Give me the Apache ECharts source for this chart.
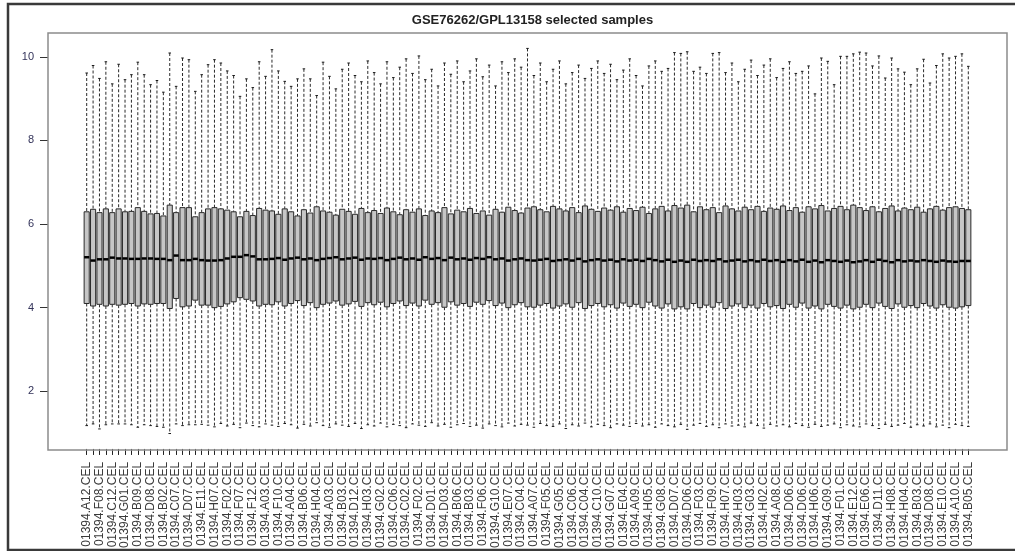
<!DOCTYPE html>
<html>
<head>
<meta charset="utf-8">
<script src="https://cdn.jsdelivr.net/npm/echarts@6/dist/echarts.min.js"></script>
<style>html,body{margin:0;padding:0;background:#fff;}#c{width:1015px;height:551px;}</style>
</head>
<body>
<div id="c"></div>
<script>
const titleText = 'GSE76262/GPL13158 selected samples';
const categories = [
'01394.A12.CEL','01394.E03.CEL','01394.F08.CEL','01394.B10.CEL','01394.C12.CEL','01394.H11.CEL','01394.G01.CEL','01394.A05.CEL','01394.B09.CEL','01394.E08.CEL',
'01394.D08.CEL','01394.G11.CEL','01394.B02.CEL','01394.F11.CEL','01394.C07.CEL','01394.A01.CEL','01394.D07.CEL','01394.C09.CEL','01394.E11.CEL','01394.B07.CEL',
'01394.H07.CEL','01394.D04.CEL','01394.F02.CEL','01394.G06.CEL','01394.F07.CEL','01394.A06.CEL','01394.F12.CEL','01394.E02.CEL','01394.A03.CEL','01394.C05.CEL',
'01394.F10.CEL','01394.H12.CEL','01394.A04.CEL','01394.D02.CEL','01394.B06.CEL','01394.E09.CEL','01394.H04.CEL','01394.C01.CEL','01394.A03.CEL','01394.G04.CEL',
'01394.B03.CEL','01394.E05.CEL','01394.D12.CEL','01394.A11.CEL','01394.H03.CEL','01394.F04.CEL','01394.G02.CEL','01394.B12.CEL','01394.C06.CEL','01394.H09.CEL',
'01394.C02.CEL','01394.E01.CEL','01394.F02.CEL','01394.A02.CEL','01394.D01.CEL','01394.G12.CEL','01394.D03.CEL','01394.C08.CEL','01394.B06.CEL','01394.H01.CEL',
'01394.B03.CEL','01394.D10.CEL','01394.F06.CEL','01394.B01.CEL','01394.G10.CEL','01394.C11.CEL','01394.E07.CEL','01394.A09.CEL','01394.C04.CEL','01394.H10.CEL',
'01394.A07.CEL','01394.B08.CEL','01394.F05.CEL','01394.D09.CEL','01394.G05.CEL','01394.E10.CEL','01394.C06.CEL','01394.F11.CEL','01394.C04.CEL','01394.B04.CEL',
'01394.C10.CEL','01394.A01.CEL','01394.G07.CEL','01394.H02.CEL','01394.E04.CEL','01394.D05.CEL','01394.A09.CEL','01394.C03.CEL','01394.H05.CEL','01394.B11.CEL',
'01394.G08.CEL','01394.E08.CEL','01394.D07.CEL','01394.A05.CEL','01394.D06.CEL','01394.G04.CEL','01394.F03.CEL','01394.B05.CEL','01394.F09.CEL','01394.E01.CEL',
'01394.H07.CEL','01394.C09.CEL','01394.H03.CEL','01394.A06.CEL','01394.G03.CEL','01394.D10.CEL','01394.H02.CEL','01394.F12.CEL','01394.A08.CEL','01394.E03.CEL',
'01394.D06.CEL','01394.B10.CEL','01394.D06.CEL','01394.G11.CEL','01394.H06.CEL','01394.C03.CEL','01394.G09.CEL','01394.A11.CEL','01394.F01.CEL','01394.B08.CEL',
'01394.E12.CEL','01394.H09.CEL','01394.E06.CEL','01394.C12.CEL','01394.D11.CEL','01394.G06.CEL','01394.H08.CEL','01394.A02.CEL','01394.H04.CEL','01394.E09.CEL',
'01394.B03.CEL','01394.F04.CEL','01394.D08.CEL','01394.C08.CEL','01394.E10.CEL','01394.G12.CEL','01394.A10.CEL','01394.H11.CEL','01394.B05.CEL'
];
const whiskerLow = [
1.15,1.19,1.07,1.17,1.19,1.19,1.19,1.17,1.11,1.17,
1.15,1.13,1.11,0.96,1.19,1.15,1.17,1.17,1.18,1.16,
1.12,1.20,1.14,1.18,1.10,1.21,1.15,1.12,1.19,1.16,
1.13,1.20,1.17,1.09,1.18,1.14,1.22,1.15,1.11,1.19,
1.16,1.13,1.20,1.08,1.17,1.14,1.21,1.12,1.18,1.15,
1.10,1.19,1.16,1.13,1.22,1.14,1.18,1.11,1.17,1.20,
1.13,1.16,1.09,1.19,1.15,1.12,1.21,1.14,1.18,1.16,
1.11,1.20,1.15,1.13,1.19,1.08,1.17,1.14,1.21,1.12,
1.18,1.15,1.10,1.19,1.16,1.13,1.20,1.14,1.17,1.11,
1.19,1.15,1.12,1.18,1.06,1.16,1.20,1.13,1.17,1.10,
1.19,1.14,1.16,1.12,1.21,1.15,1.09,1.18,1.14,1.17,
1.12,1.20,1.15,1.11,1.18,1.13,1.16,1.19,1.10,1.17,
1.14,1.12,1.19,1.15,1.08,1.18,1.13,1.16,1.20,1.11,
1.17,1.14,1.19,1.12,1.16,1.10,1.18,1.15,1.13
];
const q1 = [
4.08,4.02,4.06,4.02,4.06,4.04,4.06,4.08,4.02,4.07,
4.06,4.08,4.08,3.96,4.20,4.00,4.02,4.16,4.04,4.04,
3.98,4.01,4.07,4.12,4.22,4.18,4.14,4.02,4.06,4.05,
4.12,4.02,4.08,4.15,4.03,4.10,3.98,4.06,4.09,4.14,
4.04,4.07,4.13,4.01,4.10,4.05,4.11,4.00,4.08,4.14,
4.03,4.09,4.02,4.16,4.06,4.10,3.99,4.12,4.04,4.08,
4.01,4.11,4.06,4.15,4.03,4.09,3.98,4.05,4.10,4.00,
3.99,4.04,4.08,3.97,4.02,4.07,3.99,4.10,3.96,4.03,
4.08,4.00,4.05,3.97,4.09,4.01,4.06,3.98,4.11,4.02,
3.97,4.07,3.95,4.00,3.95,4.08,3.98,4.04,3.99,4.10,
3.96,4.02,4.07,3.98,4.04,3.97,4.08,4.00,4.03,3.96,
4.06,3.99,4.09,3.97,4.02,3.95,4.06,4.01,3.97,4.04,
3.95,3.99,4.06,3.98,4.09,4.01,3.96,4.07,3.99,4.03,
3.98,4.08,4.02,3.97,4.05,3.99,3.97,4.00,4.03
];
const median = [
5.19,5.11,5.14,5.14,5.18,5.16,5.16,5.15,5.15,5.16,
5.16,5.15,5.15,5.12,5.23,5.12,5.12,5.15,5.12,5.11,
5.11,5.12,5.16,5.20,5.20,5.24,5.21,5.14,5.14,5.15,
5.17,5.13,5.16,5.18,5.14,5.16,5.12,5.15,5.17,5.19,
5.14,5.16,5.18,5.13,5.16,5.15,5.17,5.12,5.15,5.18,
5.14,5.16,5.13,5.19,5.15,5.17,5.12,5.18,5.14,5.16,
5.13,5.17,5.15,5.19,5.14,5.16,5.11,5.14,5.16,5.12,
5.11,5.13,5.15,5.10,5.12,5.14,5.11,5.15,5.09,5.12,
5.14,5.11,5.13,5.09,5.14,5.11,5.13,5.10,5.15,5.12,
5.09,5.13,5.08,5.11,5.08,5.13,5.10,5.12,5.10,5.14,
5.09,5.11,5.13,5.09,5.12,5.09,5.13,5.10,5.12,5.08,
5.12,5.09,5.13,5.08,5.11,5.07,5.12,5.10,5.08,5.11,
5.07,5.09,5.12,5.08,5.13,5.10,5.07,5.12,5.09,5.11,
5.09,5.12,5.10,5.08,5.11,5.09,5.08,5.10,5.10
];
const q3 = [
6.28,6.34,6.26,6.35,6.26,6.35,6.28,6.29,6.38,6.29,
6.23,6.24,6.18,6.44,6.26,6.38,6.38,6.16,6.26,6.35,
6.38,6.35,6.32,6.28,6.16,6.29,6.19,6.36,6.32,6.30,
6.22,6.35,6.28,6.18,6.33,6.25,6.40,6.30,6.27,6.20,
6.34,6.29,6.22,6.36,6.26,6.31,6.24,6.37,6.28,6.21,
6.33,6.27,6.35,6.19,6.30,6.26,6.38,6.23,6.32,6.28,
6.36,6.24,6.30,6.20,6.34,6.27,6.39,6.31,6.25,6.37,
6.40,6.33,6.28,6.41,6.35,6.30,6.38,6.26,6.42,6.34,
6.29,6.37,6.32,6.40,6.27,6.36,6.31,6.39,6.24,6.35,
6.41,6.30,6.43,6.37,6.44,6.28,6.40,6.33,6.38,6.26,
6.42,6.35,6.30,6.39,6.33,6.41,6.29,6.37,6.34,6.42,
6.31,6.38,6.27,6.40,6.35,6.43,6.30,6.36,6.41,6.33,
6.44,6.38,6.31,6.40,6.28,6.36,6.42,6.30,6.37,6.33,
6.39,6.27,6.35,6.41,6.32,6.38,6.40,6.36,6.33
];
const whiskerHigh = [
9.61,9.79,9.48,9.88,9.35,9.82,9.45,9.57,9.87,9.57,
9.33,9.43,9.15,10.09,9.29,9.97,9.93,9.17,9.57,9.81,
9.93,9.85,9.66,9.55,9.05,9.47,9.26,9.88,9.53,10.17,
9.66,9.41,9.29,9.47,9.71,9.47,9.07,9.87,9.53,9.23,
9.70,9.85,9.55,9.40,9.90,9.62,9.35,9.88,9.50,9.75,
9.95,9.60,10.02,9.45,9.70,9.30,9.85,9.58,9.90,9.40,
9.66,9.95,9.52,9.80,9.30,9.88,9.62,9.95,9.75,10.20,
9.55,9.85,9.40,9.70,9.90,9.35,9.62,9.80,9.48,9.72,
9.90,9.60,9.82,9.45,9.68,9.95,9.55,9.30,9.78,9.90,
9.65,9.72,10.10,10.08,10.12,9.65,9.75,9.60,10.08,10.10,
9.62,9.85,9.40,9.70,9.92,9.55,9.80,9.95,9.50,9.72,
9.88,9.60,9.65,9.78,9.11,9.97,9.89,9.33,10.01,10.01,
10.07,10.11,10.09,9.78,10.02,9.49,9.97,9.71,9.63,9.33,
9.71,9.94,9.37,9.79,10.07,9.97,10.01,10.07,9.77
];
const yTicks = [2, 4, 6, 8, 10];
const yMin = 0.59, yMax = 10.57;

const boxData = categories.map((c, i) => [i, whiskerLow[i], q1[i], median[i], q3[i], whiskerHigh[i]]);

const chart = echarts.init(document.getElementById('c'), null, {renderer: 'canvas'});
chart.setOption({
  animation: false,
  backgroundColor: '#ffffff',
  title: {
    text: titleText, left: 527.5, top: 9, textAlign: 'center',
    textStyle: {fontFamily: 'Liberation Sans', fontSize: 13, fontWeight: 'bold', color: '#222'}
  },
  graphic: [{
    type: 'rect', silent: true, z: 100,
    shape: {x: 8, y: 4, width: 1020, height: 546},
    style: {fill: 'none', stroke: '#3a3a3a', lineWidth: 2.5}
  }],
  grid: [
    {left: 83.5, right: 43.5, top: 33, bottom: 101, containLabel: false},
    {left: 48, right: 8, top: 33, bottom: 101, show: true, borderColor: '#8c8c8c', borderWidth: 1.5, backgroundColor: 'transparent', z: 5}
  ],
  xAxis: [{
    gridIndex: 0, type: 'category', data: categories, boundaryGap: true,
    axisLine: {show: false},
    axisTick: {show: true, interval: 0, alignWithLabel: true, length: 6, lineStyle: {color: '#222', width: 1}},
    axisLabel: {interval: 1, rotate: 90, margin: 13, fontSize: 12, fontFamily: 'Liberation Sans', color: '#3a3a3a'},
    splitLine: {show: false}
  }, {
    gridIndex: 1, type: 'value', show: false, min: 0, max: 1
  }],
  yAxis: [{
    gridIndex: 0, type: 'value', min: yMin, max: yMax, show: false
  }, {
    gridIndex: 1, type: 'value', min: yMin, max: yMax,
    axisLine: {show: false},
    axisTick: {show: true, length: 8, customValues: yTicks, lineStyle: {color: '#333'}},
    axisLabel: {customValues: yTicks, margin: 14, fontSize: 11, fontFamily: 'Liberation Sans', color: '#33335a'},
    splitLine: {show: false}
  }],
  series: [{
    type: 'custom',
    xAxisIndex: 0, yAxisIndex: 0,
    dimensions: ['idx', 'low', 'q1', 'median', 'q3', 'high'],
    encode: {x: 0, y: [1, 2, 3, 4, 5]},
    data: boxData,
    renderItem: function (params, api) {
      const x = api.value(0);
      const pLo = api.coord([x, api.value(1)]);
      const pQ1 = api.coord([x, api.value(2)]);
      const pMed = api.coord([x, api.value(3)]);
      const pQ3 = api.coord([x, api.value(4)]);
      const pHi = api.coord([x, api.value(5)]);
      const band = api.size([1, 0])[0];
      const w = band * 0.8;
      const cap = w * 0.25;
      const cx = pQ1[0];
      const dash = {stroke: '#2a2a2a', lineWidth: 1, lineDash: [3, 2]};
      const solid = {stroke: '#1a1a1a', lineWidth: 1};
      return {
        type: 'group',
        children: [
          {type: 'line', shape: {x1: cx, y1: pHi[1], x2: cx, y2: pQ3[1]}, style: dash},
          {type: 'line', shape: {x1: cx, y1: pQ1[1], x2: cx, y2: pLo[1]}, style: dash},
          {type: 'line', shape: {x1: cx - cap, y1: pHi[1], x2: cx + cap, y2: pHi[1]}, style: solid},
          {type: 'line', shape: {x1: cx - cap, y1: pLo[1], x2: cx + cap, y2: pLo[1]}, style: solid},
          {type: 'rect', shape: {x: cx - w / 2, y: pQ3[1], width: w, height: pQ1[1] - pQ3[1]},
           style: {fill: '#c6c6c6', stroke: '#2a2a2a', lineWidth: 1}},
          {type: 'line', shape: {x1: cx - w / 2, y1: pMed[1], x2: cx + w / 2, y2: pMed[1]},
           style: {stroke: '#000', lineWidth: 2.5}}
        ]
      };
    }
  }]
});
</script>
</body>
</html>
